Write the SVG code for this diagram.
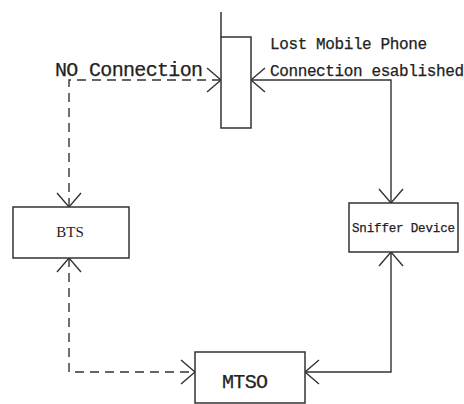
<svg xmlns="http://www.w3.org/2000/svg" width="464" height="404" viewBox="0 0 464 404">
<defs>
<style>
.box{fill:#fff;stroke:#333;stroke-width:1.5}
.ln{fill:none;stroke:#333;stroke-width:1.4;marker-start:url(#ar);marker-end:url(#ar)}
.dash{stroke-dasharray:9,6}
.mono{font-family:"Liberation Mono","DejaVu Sans Mono",monospace;fill:#222;stroke:#222;stroke-width:0.25}
.serif{font-family:"Liberation Serif","DejaVu Serif",serif;fill:#222}
</style>
<marker id="ar" markerUnits="userSpaceOnUse" markerWidth="34" markerHeight="34" refX="0" refY="0" viewBox="-17 -17 34 34" orient="auto-start-reverse" overflow="visible">
<path d="M-14,-12 L0,0 L-14,12" fill="none" stroke="#333" stroke-width="1.4"/>
</marker>
</defs>
<rect width="464" height="404" fill="#fff"/>
<g id="connectors">
<path class="ln dash" d="M221,80 H69 V207"/>
<path class="ln" d="M251,80 H391 V203"/>
<path class="ln" d="M391,252 V372 H305"/>
<path class="ln dash" d="M69,258 V372 H195"/>
</g>
<g id="phone">
<line x1="221" y1="12" x2="221" y2="37" stroke="#333" stroke-width="1.5"/>
<rect class="box" x="221" y="37" width="30" height="91"/>
</g>
<g id="labels">
<text class="mono" x="55" y="76" font-size="20" textLength="148">NO Connection</text>
<text class="mono" x="270" y="49" font-size="16" textLength="157">Lost Mobile Phone</text>
<text class="mono" x="270" y="76" font-size="16" textLength="194">Connection esablished</text>
</g>
<g id="bts">
<rect class="box" x="13" y="207" width="116" height="51"/>
<text class="serif" x="70" y="237" font-size="15" text-anchor="middle">BTS</text>
</g>
<g id="sniffer">
<rect class="box" x="349" y="203" width="109" height="49"/>
<text class="mono" x="403.5" y="232" font-size="12.5" text-anchor="middle" textLength="103">Sniffer Device</text>
</g>
<g id="mtso">
<rect class="box" x="195" y="352" width="110" height="51"/>
<text class="mono" x="245" y="388" font-size="20" text-anchor="middle" textLength="46">MTSO</text>
</g>
</svg>
